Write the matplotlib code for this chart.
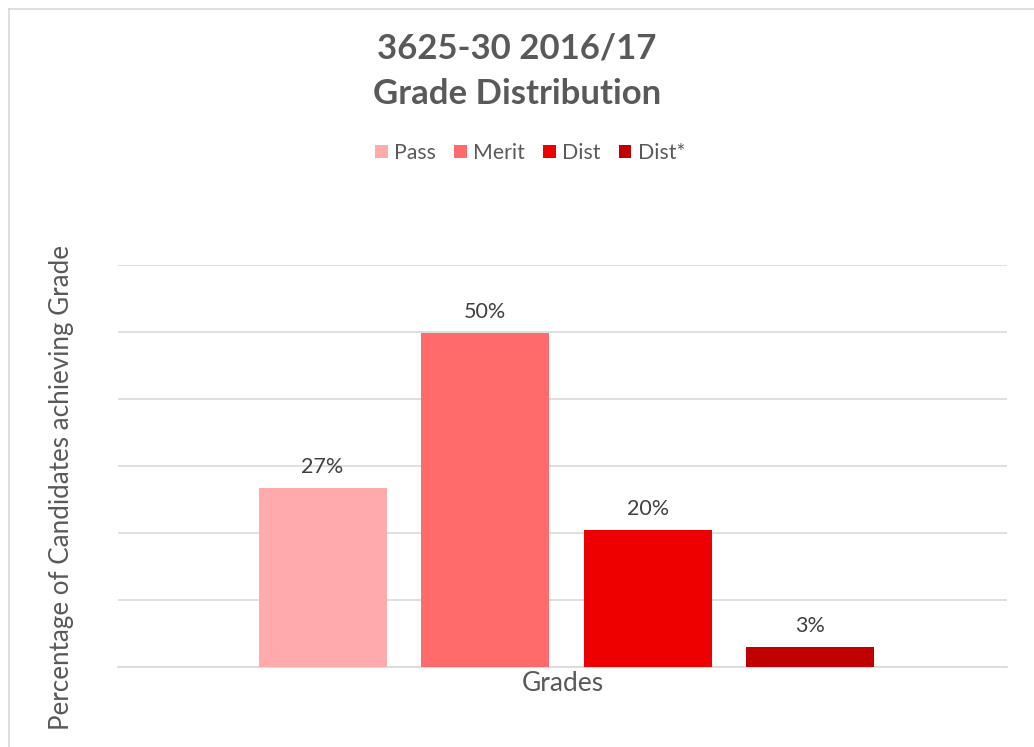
import matplotlib
matplotlib.use("Agg")
import matplotlib.pyplot as plt
from matplotlib.lines import Line2D

series = ["Pass", "Merit", "Dist", "Dist*"]
values = [26.7, 49.8, 20.5, 3.0]
labels = ["27%", "50%", "20%", "3%"]
colors = ["#FFABAB", "#FF6B6B", "#EE0000", "#C00000"]
yticks = [0, 10, 20, 30, 40, 50, 60]

plt.rcParams['font.family'] = ['Lato', 'DejaVu Sans']
txt = "#595959"

fig = plt.figure(figsize=(10.34, 7.47), dpi=100)
fig.patch.set_facecolor("white")
fig.add_artist(Line2D([9/1034, 9/1034], [0, 1 - 9/747], transform=fig.transFigure, color="#D9D9D9", lw=1.2))
fig.add_artist(Line2D([9/1034, 1], [1 - 9/747, 1 - 9/747], transform=fig.transFigure, color="#D9D9D9", lw=1.2))

ax = fig.add_axes([118/1034, 1 - 667/747, 889/1034, (667 - 265)/747])
step = 0.1829
width = 0.144
center = 0.5045
handles = []
for i, (s, v, lab, c) in enumerate(zip(series, values, labels, colors)):
    x = center + (i - 1.5) * step
    b = ax.bar(x, v, width=width, color=c, label=s, zorder=3)
    handles.append(b)
    ax.annotate(lab, (x, v), xytext=(0, 8), textcoords="offset points",
                ha="center", va="bottom", fontsize=15.5, color="#404040")

ax.set_xlim(0, 1)
ax.set_ylim(0, 60)
ax.set_yticks(yticks)
ax.yaxis.grid(True, color="#D9D9D9", lw=1.2, zorder=0)
ax.set_yticklabels([])
ax.set_xticks([])
ax.tick_params(axis="y", length=0)
for sp in ["top", "right", "left"]:
    ax.spines[sp].set_visible(False)
ax.spines["bottom"].set_color("#D9D9D9")
ax.spines["bottom"].set_linewidth(1.2)
ax.set_xlabel("Grades", fontsize=19, color=txt, labelpad=3)
fig.text(62/1034, 1 - 487/747, "Percentage of Candidates achieving Grade", rotation=90,
         ha="center", va="center", fontsize=18.7, color=txt)

fig.text(0.5, 1 - 71.5/747, "3625-30 2016/17\nGrade Distribution", ha="center", va="center",
         fontsize=25, fontweight="bold", color=txt, linespacing=1.5)

fig.legend(handles=handles, labels=series, loc="center", bbox_to_anchor=(530/1034, 1 - 153/747),
           ncol=4, frameon=False, fontsize=15.3, labelcolor=txt, handlelength=0.6, handleheight=0.6,
           handletextpad=0.3, columnspacing=0.85)

fig.savefig("out.png", dpi=100, facecolor="white")
